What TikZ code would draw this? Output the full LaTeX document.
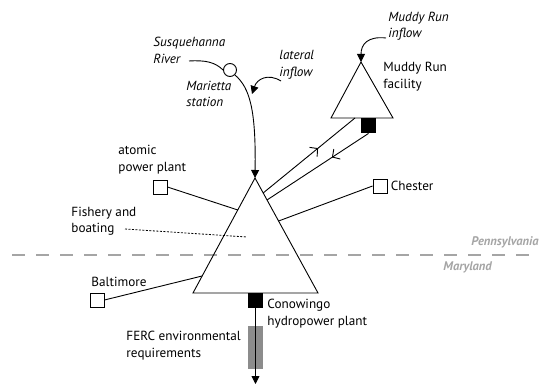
\documentclass[tikz,border=0pt]{standalone}
\usepackage{fontspec}
\setmainfont{PT Sans}
\usetikzlibrary{arrows.meta,positioning,decorations.markings}
\definecolor{stategray}{RGB}{165,165,165}
\definecolor{fercgray}{RGB}{140,140,140}

\begin{document}
\begin{tikzpicture}[x=1pt,y=-1pt,line width=0.9pt,
    font=\fontsize{13.2}{16.5}\selectfont,
    plantbox/.style={draw,fill=white,minimum size=14pt,inner sep=0pt},
    turbine/.style={fill=black,minimum size=15pt,inner sep=0pt},
    lbl/.style={align=left,anchor=west,inner sep=0pt},
    flowlbl/.style={lbl,font=\fontsize{13.2}{16.5}\selectfont\itshape},
    midarrow/.style={postaction={decorate},
        decoration={markings,mark=at position #1 with {\arrow{Straight Barb[length=5.5pt,width=12pt]}}}},
    tip/.style={-{Triangle[length=8pt,width=8pt]}}]
    \useasboundingbox (0,0) rectangle (540,385);
    % state border
    \draw [stategray,line width=2.6pt,dash pattern=on 13pt off 11pt] (12,255) -- (540,255);
    \node (penn) [anchor=east,inner sep=0pt,text=stategray,font=\bfseries\itshape\fontsize{12.5}{14}\selectfont] at (539,242) {Pennsylvania};
    \node (mary) [anchor=west,inner sep=0pt,text=stategray,font=\bfseries\itshape\fontsize{12.5}{14}\selectfont] at (443,267) {Maryland};
    % Conowingo reservoir
    \coordinate (cotop) at (255,178);
    \coordinate (coleft) at (193,293);
    \coordinate (coright) at (318,293);
    \draw (cotop) -- (coright) -- (coleft) -- cycle;
    \node (cogen) [turbine] at (255.5,300.5) {};
    \node (colbl) [lbl] at (267,313.5) {Conowingo\\hydropower plant};
    \path (cotop) -- (coleft) coordinate [pos=0.278] (atomicin) coordinate [pos=0.852] (baltin);
    \path (cotop) -- (coright) coordinate [pos=0.13] (muddyout) coordinate [pos=0.191] (muddyin)
        coordinate [pos=0.374] (chesterin);
    % Muddy Run reservoir
    \coordinate (mrtop) at (361,62);
    \coordinate (mrleft) at (331,118);
    \coordinate (mrright) at (393,118);
    \draw (mrtop) -- (mrright) -- (mrleft) -- cycle;
    \node (mrgen) [turbine] at (368.5,125.5) {};
    \coordinate (mrbase) at (355,118);
    \node (mrlbl) [lbl] at (383,76.5) {Muddy Run\\facility};
    \draw [midarrow=0.6] (muddyout) -- (mrbase);
    \draw [midarrow=0.36] (mrgen.south) -- (muddyin);
    \node (mrinlbl) [flowlbl] at (388,26) {Muddy Run\\inflow};
    \coordinate (mrinfrom) at (386,38);
    \draw [tip] (mrinfrom) .. controls (368,36) and (361,44) .. (mrtop);
    % river inflow
    \node (marietta) [circle,draw,minimum size=13pt,inner sep=0pt] at (230,70) {};
    \coordinate (riverfrom) at (189,61);
    \draw (riverfrom) .. controls (205,60) and (215,62) .. (marietta.west);
    \draw [tip] (marietta.south east) .. controls (250,88) and (256,110) .. (cotop);
    \node (susqlbl) [flowlbl] at (153,50.5) {Susquehanna\\River};
    \node (marlbl) [flowlbl] at (186,94) {Marietta\\station};
    \node (latlbl) [flowlbl] at (279,65) {lateral\\inflow};
    \coordinate (latfrom) at (281,81);
    \coordinate (latto) at (252,94);
    \draw [tip] (latfrom) .. controls (268,73) and (257,79) .. (latto);
    % demands
    \node (atomic) [plantbox] at (160,187) {};
    \node (atomiclbl) [lbl] at (118,159.5) {atomic\\power plant};
    \draw (atomic.east) -- (atomicin);
    \node (chester) [plantbox] at (380,186) {};
    \node (chesterlbl) [lbl,right=3pt of chester] {Chester};
    \draw (chester.west) -- (chesterin);
    \node (balt) [plantbox] at (97,300) {};
    \node (baltlbl) [lbl] at (91,282) {Baltimore};
    \draw (balt.east) -- (baltin);
    \node (fishlbl) [lbl] at (71,221) {Fishery and\\boating};
    \coordinate (fishto) at (247,237);
    \draw [line width=0.8pt,dash pattern=on 2pt off 1.5pt] (125,229) -- (fishto);
    % release
    \fill [fercgray] (248,326) rectangle (263,369);
    \node (fercllbl) [lbl] at (126,345.5) {FERC environmental\\requirements};
    \coordinate (outflow) at (255.5,384);
    \draw [tip] (cogen.south) -- (outflow);
\end{tikzpicture}
\end{document}
